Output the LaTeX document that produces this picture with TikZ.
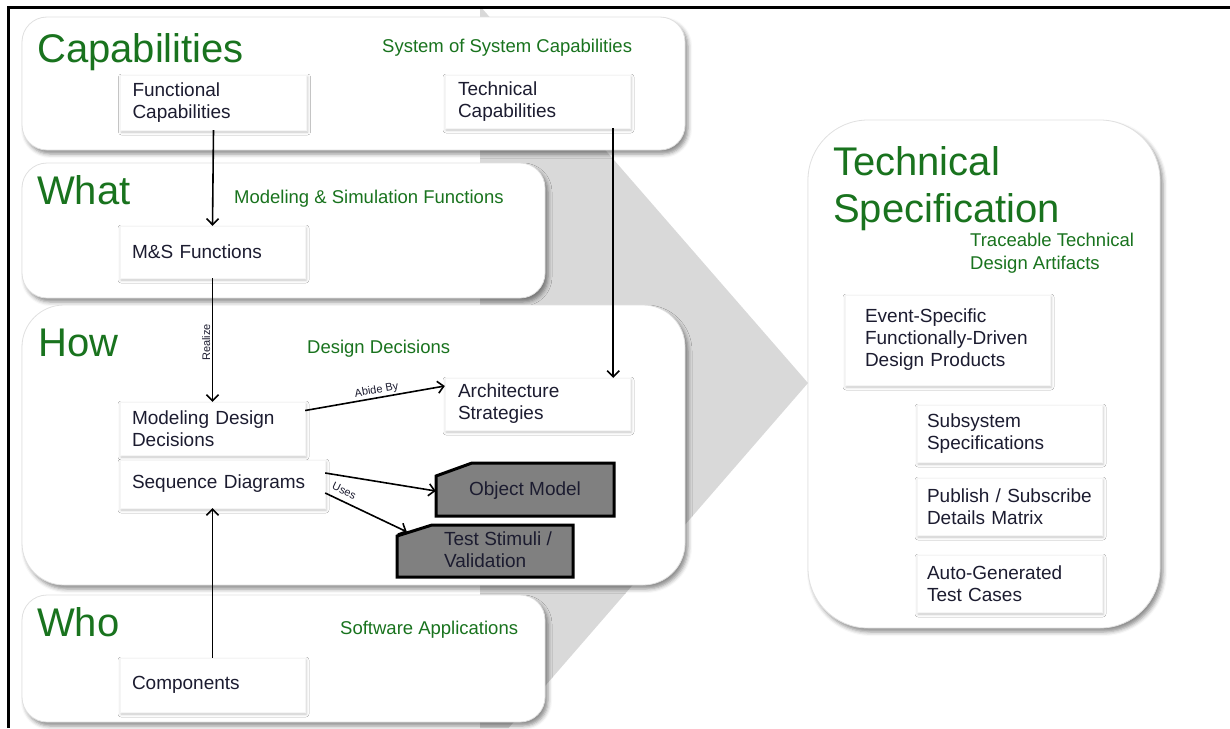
\documentclass[tikz,border=0pt]{standalone}
\usepackage{fontspec}
\setmainfont{Liberation Sans}
\usetikzlibrary{arrows.meta,shadows.blur,calc}

\definecolor{ink}{RGB}{28,28,48}
\definecolor{titlegreen}{RGB}{25,115,30}
\definecolor{chevron}{RGB}{217,217,217}
\definecolor{artifactgray}{RGB}{128,128,128}

\tikzset{
  panel/.style={fill=white, draw=black!12, line width=0.8pt,
    blur shadow={shadow xshift=3pt, shadow yshift=-4pt, shadow blur radius=4pt, shadow opacity=45}},
  layer title/.style={anchor=base west, text=titlegreen, font=\fontsize{40}{47}\selectfont, inner sep=0pt},
  layer sub/.style={anchor=base west, text=titlegreen, font=\fontsize{18.5}{23}\selectfont, inner sep=0pt},
  item/.style={fill=white, draw=black!4,
    blur shadow={shadow xshift=1pt, shadow yshift=-2pt, shadow blur radius=3pt, shadow opacity=22},
    text=ink, font=\fontsize{19}{22}\selectfont, align=left, inner xsep=12pt, inner ysep=0pt},
  artifact/.style={fill=artifactgray, draw=black, line width=3pt, line join=miter},
  artifact text/.style={text=ink, font=\fontsize{19}{22}\selectfont, inner sep=0pt},
  flow/.style={draw=black, line width=1.6pt,
    -{Straight Barb[length=6pt,width=12pt,line width=1.6pt]}},
  flow label/.style={font=\fontsize{11}{12}\selectfont, text=ink, inner sep=1.5pt},
}

\begin{document}
\begin{tikzpicture}[x=1pt,y=-1pt]
\useasboundingbox (0,0) rectangle (1230,728);

% large chevron behind the layers
\fill[chevron] (480,6) -- (808,383) -- (508.6,728) -- (480,728) -- cycle;

% layer panels
\node[panel, rounded corners=25pt, minimum width=663pt, minimum height=133pt] (cap)  at (353.5,83.5) {};
\node[panel, rounded corners=25pt, minimum width=523pt, minimum height=135pt] (what) at (283.5,230.5) {};
\node[panel, rounded corners=42pt, minimum width=663pt, minimum height=280pt] (how)  at (353.5,445) {};
\node[panel, rounded corners=25pt, minimum width=523pt, minimum height=127pt] (who)  at (283.5,658.5) {};
\node[panel, rounded corners=60pt, minimum width=352pt, minimum height=508pt] (spec) at (984,374) {};

% layer titles and subtitles
\node[layer title] (capT)  at (37,62)  {Capabilities};
\node[layer title] (whatT) at (37,204.5) {What};
\node[layer title] (howT)  at (38,356) {How};
\node[layer title] (whoT)  at (37,636) {Who};
\node[layer title, anchor=north west, align=left] (specT) at (833,146) {Technical\\Specification};

\node[layer sub] (capS)  at (382,52)  {System of System Capabilities};
\node[layer sub] (whatS) at (234,203) {Modeling \& Simulation Functions};
\node[layer sub] (howS)  at (307,353) {Design Decisions};
\node[layer sub] (whoS)  at (340,634) {Software Applications};
\node[layer sub, anchor=north west, align=left] (specS) at (970,232.5) {Traceable Technical\\Design Artifacts};

% items
\node[item, text width=162pt, minimum height=55pt] (fc)   at (213.5,102.5) {Functional\\Capabilities};
\node[item, text width=159pt, inner xsep=13pt, minimum height=53pt] (tc) at (537.5,101.5) {Technical\\Capabilities};
\node[item, text width=161pt, minimum height=52pt] (msf)  at (212.5,252) {M\&S Functions};
\node[item, text width=161pt, minimum height=53pt] (mdd)  at (212.5,428.5) {Modeling Design\\Decisions};
\node[item, text width=159pt, inner xsep=13pt, minimum height=52pt] (arch) at (537.5,404) {Architecture\\Strategies};
\node[item, text width=181pt, minimum height=48pt] (seq)  at (222.5,484) {Sequence Diagrams};
\node[item, text width=161pt, minimum height=54pt] (comp) at (212.5,685) {Components};

\node[item, text width=165pt, inner xsep=20pt, minimum height=90pt] (evt) at (947.5,340) {Event-Specific\\Functionally-Driven\\Design Products};
\node[item, text width=165pt, inner xsep=10pt, minimum height=57pt] (sub)  at (1009.5,433.5) {Subsystem\\Specifications};
\node[item, text width=165pt, inner xsep=10pt, minimum height=57pt] (pub)  at (1009.5,506.5) {Publish / Subscribe\\Details Matrix};
\node[item, text width=165pt, inner xsep=10pt, minimum height=57pt] (auto) at (1009.5,583.5) {Auto-Generated\\Test Cases};

% model artifacts with a cut corner
\filldraw[artifact] (436,516) -- (436,476) -- (472,463) -- (614,463) -- (614,516) -- cycle;
\filldraw[artifact] (397,577) -- (397,536) -- (432,525) -- (573,525) -- (573,577) -- cycle;
\node[artifact text, minimum width=178pt, minimum height=53pt] (om) at (525,491) {Object Model};
\node[artifact text, minimum width=176pt, minimum height=52pt] (ts) at (485,552)
  {\hspace*{26pt}\begin{tabular}{@{}l@{}}Test Stimuli /\\Validation\end{tabular}};

% connectors
\draw[flow] (fc.south) -- (msf.north);
\draw[flow] (msf.south) -- node[flow label, rotate=90, anchor=south, pos=0.52] {Realize} (mdd.north);
\draw[flow] ([xshift=-17pt]tc.south east) -- ([xshift=-17pt]arch.north east);
\draw[flow] ([yshift=18pt]mdd.east) -- node[flow label, pos=0.52, above, sloped] {Abide By} ([yshift=18pt]arch.west);
\draw[flow] ([yshift=11pt]seq.east) -- (om.west);
\draw[flow] ([yshift=-9pt]seq.east) -- node[flow label, pos=0.18, above=4pt, sloped] {Uses} ([xshift=10pt,yshift=-6pt]ts.north west);
\draw[flow] (comp.north) -- (comp.north |- seq.south);

% frame lines
\draw[line width=2.6pt] (8.7,728) -- (8.7,7.7) -- (1230,7.7);
\end{tikzpicture}
\end{document}
